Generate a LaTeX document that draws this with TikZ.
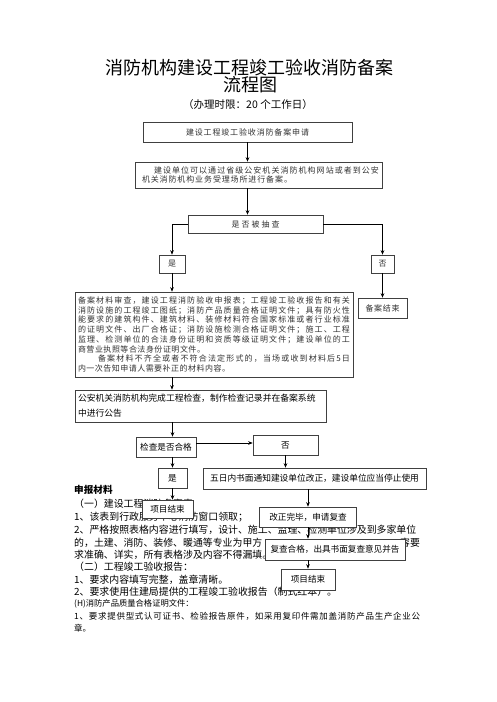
\documentclass[tikz,border=0pt]{standalone}
\usepackage{fontspec}
\setmainfont{Noto Sans CJK SC}
\usetikzlibrary{arrows.meta}
\makeatletter
\def\sp@first#1{#1\sp@rest}
\def\sp@rest#1{\ifx#1\relax\else\hfil#1\expandafter\sp@rest\fi}
\newcommand\jline[2]{\makebox[#1][s]{\sp@first#2\relax}}
\makeatother
\begin{document}
\begin{tikzpicture}[x=1pt,y=-1pt,
  box/.style={draw=black!75, line width=0.6pt, fill=white, inner sep=0pt, anchor=center},
  arr/.style={draw=black, line width=0.6pt, -{Stealth[length=4.5pt,width=3.6pt]}},
  sfont/.style={font=\fontsize{8}{9.7}\selectfont, text=black!80},
  mfont/.style={font=\fontsize{8.6}{10}\selectfont},
  body/.style={anchor=west, inner sep=0pt, font=\fontsize{9.9}{12}\selectfont}
]
\useasboundingbox[fill=white] (0,0) rectangle (496,702);

% titles
\node (t1) at (249,68) {\fontsize{18}{18}\selectfont 消防机构建设工程竣工验收消防备案};
\node (t2) at (250,85) {\fontsize{18}{18}\selectfont 流程图};
\node (t3) at (248,105) {\fontsize{10.5}{12}\selectfont （办理时限：20 个工作日）};

% body text (under the lower boxes)
\node[body, font=\fontsize{9.6}{12}\selectfont\bfseries] (m0) at (74,490) {申报材料};
\node[body] (m1) at (74,504) {（一）建设工程消防备案表};
\node[body] (m2) at (74,517) {1、该表到行政服务中心消防窗口领取；};
\node[body] (m3) at (74,530) {2、严格按照表格内容进行填写，设计、施工、监理、检测单位涉及到多家单位};
\node[body] (m4a) at (74,543) {的，土建、消防、装修、暖通等专业为甲方};
\node[body] (m4b) at (400,543) {容要};
\node[body] (m5) at (74,555) {求准确、详实，所有表格涉及内容不得漏填。};
\node[body] (m6) at (74,567) {（二）工程竣工验收报告：};
\node[body] (m7) at (74,580) {1、要求内容填写完整，盖章清晰。};
\node[body] (m8) at (74,592) {2、要求使用住建局提供的工程竣工验收报告（制式红本）。};
\node[body, font=\fontsize{8.3}{10}\selectfont] (m9) at (74,604) {(H)消防产品质量合格证明文件：};
\node[body, font=\fontsize{8.5}{10}\selectfont] (m10) at (74,616) {\jline{346pt}{1、要求提供型式认可证书、检验报告原件，如采用复印件需加盖消防产品生产企业公}};
\node[body, font=\fontsize{8.5}{10}\selectfont] (m11) at (74,628) {章。};

% upper flow
\node[box, sfont, minimum width=209pt, minimum height=20pt] (b1) at (247.5,132) {\jline{123pt}{建设工程竣工验收消防备案申请}};
\node[box, sfont, text width=241pt, inner xsep=3pt, minimum height=26pt, align=left] (b2) at (258.5,175)
  {\hspace*{16pt}\jline{225pt}{建设单位可以通过省级公安机关消防机构网站或者到公安}\\\hspace*{4pt}\jline{150pt}{机关消防机构业务受理场所进行备案。}};
\node[box, sfont, minimum width=135pt, minimum height=18pt] (b3) at (255.5,224) {\jline{48pt}{是否被抽查}};
\node[box, sfont, minimum width=26pt, minimum height=18pt] (y1) at (172,264) {是};
\node[box, sfont, minimum width=23pt, minimum height=18pt] (n1) at (382.5,264) {否};
\node[box, sfont, minimum width=49pt, minimum height=20pt] (bend) at (382.5,308) {\jline{34pt}{备案结束}};
\node[box, sfont, text width=272pt, inner xsep=3pt, minimum height=85pt, align=left] (big) at (214,334.5)
  {\jline{272pt}{备案材料审查，建设工程消防验收申报表；工程竣工验收报告和有关}\\
   \jline{272pt}{消防设施的工程竣工图纸；消防产品质量合格证明文件；具有防火性}\\
   \jline{272pt}{能要求的建筑构件、建筑材料、装修材料符合国家标准或者行业标准}\\
   \jline{272pt}{的证明文件、出厂合格证；消防设施检测合格证明文件；施工、工程}\\
   \jline{272pt}{监理、检测单位的合法身份证明和资质等级证明文件；建设单位的工}\\
   \jline{127pt}{商营业执照等合法身份证明文件。}\\
   \hspace*{20pt}\jline{252pt}{备案材料不齐全或者不符合法定形式的，当场或收到材料后 5 日}\\
   \jline{152pt}{内一次告知申请人需要补正的材料内容。}};

% lower flow
\node[box, text width=245pt, inner xsep=3pt, minimum height=32pt, align=left, font=\fontsize{8.8}{15}\selectfont] (gongan) at (200.5,406)
  {公安机关消防机构完成工程检查，制作检查记录并在备案系统\\中进行公告};
\node[box, mfont, minimum width=60pt, minimum height=20pt] (chk) at (166,447) {检查是否合格};
\node[box, mfont, minimum width=65pt, minimum height=20pt] (no2) at (285.5,445) {否};
\node[box, mfont, minimum width=29pt, minimum height=20pt] (y2) at (172.5,478) {是};
\node[box, font=\fontsize{8.7}{10}\selectfont, minimum width=223pt, minimum height=21pt] (notice) at (314.5,478.5) {五日内书面通知建设单位改正，建设单位应当停止使用};
\node[box, mfont, minimum width=51pt, minimum height=18pt] (end1) at (167.5,509) {项目结束};
\node[box, mfont, minimum width=97pt, minimum height=20pt] (fix) at (308,517) {改正完毕，申请复查};
\node[box, mfont, minimum width=140pt, minimum height=21pt] (rechk) at (335,549.5) {复查合格，出具书面复查意见并告};
\node[box, mfont, minimum width=54pt, minimum height=21pt] (end2) at (308,579.5) {项目结束};

% connectors
\draw[arr] (b1.south) -- (b1.south |- b2.north);
\draw[arr] (b2.south -| b1.south) -- (b3.north -| b1.south);
\draw[arr] (b3.west) -| (y1.north);
\draw[arr] (b3.east) -| (n1.north);
\draw[arr] (n1.south) -- (bend.north);
\draw[arr] (y1.south) -- (y1.south |- big.north);
\draw[arr] (big.south -| y1.south) -- (gongan.north -| y1.south);
\draw[arr] (gongan.south -| y2.north) -- (chk.north -| y2.north);
\draw[arr] (chk.south -| y2.north) -- (y2.north);
\draw[arr] ([yshift=4pt]chk.east) -- ([yshift=4pt]chk.east -| no2.west);
\draw[arr] (y2.south) -- (y2.south |- end1.north);
\draw[arr] (no2.south) -- (no2.south |- notice.north);
\draw[arr] (notice.south -| fix.north) -- (fix.north);
\draw[arr] (fix.south) -- (fix.south |- rechk.north);
\draw[arr] (rechk.south -| end2.north) -- (end2.north);
\end{tikzpicture}
\end{document}
